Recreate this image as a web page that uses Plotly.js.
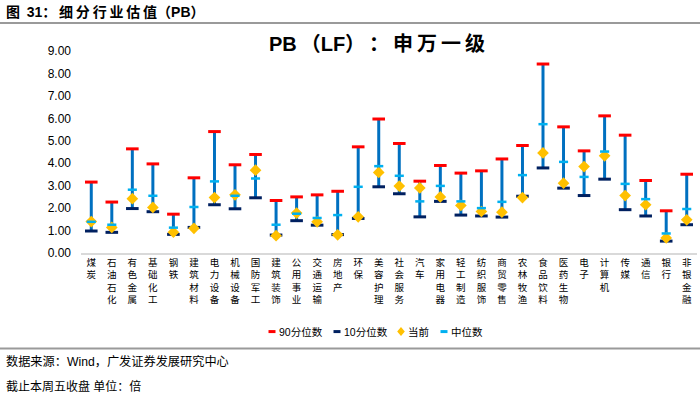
<!DOCTYPE html>
<html>
<head>
<meta charset="utf-8">
<script src="https://cdn.plot.ly/plotly-3.0.1.min.js"></script>
<style>
html,body{margin:0;padding:0;background:#fff;}
#chart{width:700px;height:395px;}
</style>
</head>
<body>
<div id="chart"></div>
<script>
var categories = ["煤炭","石油石化","有色金属","基础化工","钢铁","建筑材料","电力设备","机械设备","国防军工","建筑装饰","公用事业","交通运输","房地产","环保","美容护理","社会服务","汽车","家用电器","轻工制造","纺织服饰","商贸零售","农林牧渔","食品饮料","医药生物","电子","计算机","传媒","通信","银行","非银金融"];
var p90 = [3.16,2.27,4.64,3.97,1.73,3.35,5.41,3.93,4.39,2.34,2.50,2.59,2.75,4.73,5.97,4.88,3.20,3.90,3.56,3.66,4.19,4.79,8.42,5.62,4.55,6.11,5.25,3.23,1.88,3.51];
var p10 = [0.98,0.92,1.98,1.84,0.83,1.14,2.15,1.97,2.46,0.80,1.44,1.24,0.82,1.54,2.95,2.64,1.61,2.30,1.69,1.65,1.60,2.53,3.79,2.89,2.56,3.29,1.93,1.65,0.53,1.26];
var current = [1.40,1.14,2.42,2.03,0.93,1.10,2.47,2.59,3.69,0.77,1.78,1.39,0.81,1.61,3.59,2.98,2.90,2.50,2.12,1.85,1.82,2.47,4.46,3.11,3.85,4.33,2.56,2.15,0.67,1.48];
var median = [1.39,1.26,2.82,2.55,1.13,2.05,3.19,2.55,3.32,1.26,1.75,1.56,1.69,2.95,3.87,3.44,2.30,2.99,2.30,2.00,2.28,3.47,5.74,4.06,3.39,4.52,3.08,2.40,0.87,1.96];
var seriesNames = ["90分位数","10分位数","当前","中位数"];
var yTicks = [0,1,2,3,4,5,6,7,8,9];

var colors = {p90: '#FF0000', p10: '#002060', cur: '#FFC000', med: '#00B0F0', rng: '#0070C0'};

// vertical range segments
var segX = [], segY = [];
for (var i = 0; i < categories.length; i++) {
  segX.push(categories[i], categories[i], null);
  segY.push(p10[i], p90[i], null);
}
var verticalText = categories.map(function(c){ return c.split('').join('<br>'); });

var traces = [
  {x: segX, y: segY, type: 'scatter', mode: 'lines', line: {color: colors.rng, width: 3}, showlegend: false, hoverinfo: 'skip', connectgaps: false},
  {x: categories, y: p90, type: 'scatter', mode: 'markers', name: seriesNames[0], showlegend: false,
   marker: {symbol: 'line-ew', size: 9, line: {color: colors.p90, width: 3}}},
  {x: categories, y: p10, type: 'scatter', mode: 'markers', name: seriesNames[1], showlegend: false,
   marker: {symbol: 'line-ew', size: 9, line: {color: colors.p10, width: 3}}},
  {x: categories, y: current, type: 'scatter', mode: 'markers', name: seriesNames[2], showlegend: false,
   marker: {symbol: 'diamond', size: 9, color: colors.cur, line: {width: 0}}},
  {x: categories, y: median, type: 'scatter', mode: 'markers', name: seriesNames[3], showlegend: false,
   marker: {symbol: 'line-ew', size: 6.5, line: {color: colors.med, width: 2.5}}}
];

var L = 81, W = 616, T = 51, H = 202.3;
function px2x(px){ return (px - L) / W; }
function py2y(py){ return (T + H - py) / H; }

var cjk = '"Liberation Sans", Arial, "Noto Sans CJK SC", sans-serif';
var ts = '\u2009';

var shapes = [
  {type: 'line', xref: 'paper', yref: 'paper', x0: px2x(0), x1: px2x(700), y0: py2y(23), y1: py2y(23), line: {color: '#9A9A9A', width: 2}},
  {type: 'line', xref: 'paper', yref: 'paper', x0: px2x(0), x1: px2x(700), y0: py2y(349), y1: py2y(349), line: {color: '#9A9A9A', width: 2}}
];
var annotations = [
  {xref: 'paper', yref: 'paper', x: px2x(4), y: py2y(12), xanchor: 'left', yanchor: 'middle', showarrow: false,
   text: '<b>图' + ts + ' 31：' + ts + '细' + ts + '分' + ts + '行' + ts + '业' + ts + '估' + ts + '值（PB）</b>', font: {size: 14, color: '#000', family: cjk}},
  {xref: 'paper', yref: 'paper', x: px2x(4), y: py2y(362), xanchor: 'left', yanchor: 'middle', showarrow: false,
   text: '数据来源：Wind，广发证券发展研究中心', font: {size: 12.2, color: '#000', family: cjk}},
  {xref: 'paper', yref: 'paper', x: px2x(4), y: py2y(387), xanchor: 'left', yanchor: 'middle', showarrow: false,
   text: '截止本周五收盘 单位：倍', font: {size: 12, color: '#000', family: cjk}}
];

// custom compact legend (symbol + text)
var legY = 332;
var legItems = [
  {sym: 'dash', color: colors.p90, sx: 272, tx: 277},
  {sym: 'dash', color: colors.p10, sx: 337, tx: 342},
  {sym: 'diamond', color: colors.cur, sx: 401, tx: 406},
  {sym: 'dash', color: colors.med, sx: 444, tx: 449}
];
legItems.forEach(function(it, k){
  if (it.sym === 'dash') {
    shapes.push({type: 'rect', xref: 'paper', yref: 'paper', x0: px2x(it.sx - 3.5), x1: px2x(it.sx + 3.5),
                 y0: py2y(legY + 1.5), y1: py2y(legY - 1.5), fillcolor: it.color, line: {width: 0}});
  } else {
    var cx = px2x(it.sx), cy = py2y(legY), dx = 3.8 / W, dy = 4.5 / H;
    shapes.push({type: 'path', xref: 'paper', yref: 'paper',
                 path: 'M' + (cx - dx) + ',' + cy + ' L' + cx + ',' + (cy + dy) + ' L' + (cx + dx) + ',' + cy + ' L' + cx + ',' + (cy - dy) + ' Z',
                 fillcolor: it.color, line: {width: 0}});
  }
  annotations.push({xref: 'paper', yref: 'paper', x: px2x(it.tx), y: py2y(legY), xanchor: 'left', yanchor: 'middle',
                    showarrow: false, text: seriesNames[k], font: {size: 10.5, color: '#000', family: cjk}});
});

var layout = {
  width: 700, height: 395,
  margin: {l: L, r: 700 - L - W, t: T, b: 395 - T - H, pad: 0},
  paper_bgcolor: '#ffffff', plot_bgcolor: '#ffffff',
  font: {family: cjk, color: '#000', size: 11},
  title: {text: '<b>PB' + ts + '（LF）' + ts + '：' + ts + '申' + ts + '万' + ts + '一' + ts + '级</b>',
          x: 377 / 700, xref: 'container', xanchor: 'center', y: 1 - 44/395, yanchor: 'middle',
          font: {family: cjk, size: 20, color: '#000'}},
  xaxis: {type: 'category', tickvals: categories, ticktext: verticalText, tickangle: 0,
          showgrid: false, zeroline: false, showline: true, linecolor: '#D9D9D9', linewidth: 1.5,
          ticks: '', tickfont: {size: 9.5, family: cjk, color: '#000'},
          range: [-0.5, categories.length - 0.5], fixedrange: true},
  yaxis: {range: [0, 9], tickvals: yTicks, tickformat: '.2f', showgrid: false, zeroline: false,
          showline: false, ticks: '', ticklen: 0, ticklabelstandoff: 9, tickfont: {size: 12, color: '#000'}, fixedrange: true},
  showlegend: false,
  shapes: shapes,
  annotations: annotations
};

Plotly.newPlot('chart', traces, layout, {displayModeBar: false, staticPlot: true});
</script>
</body>
</html>
